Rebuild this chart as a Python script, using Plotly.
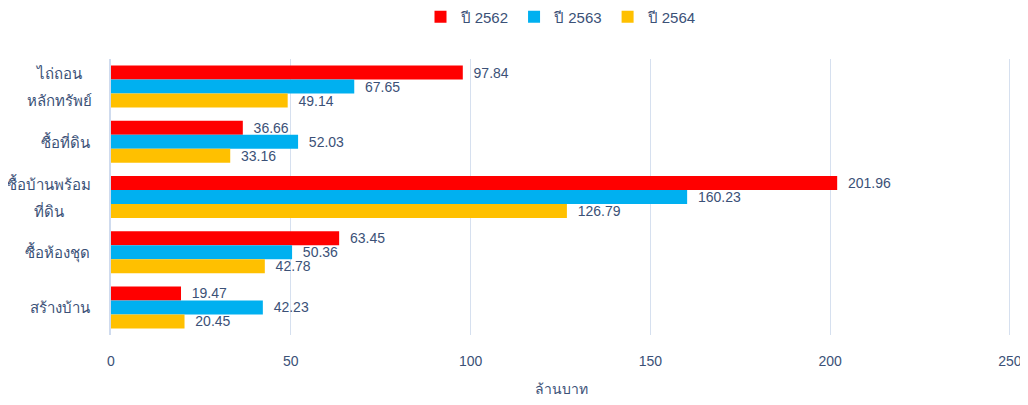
import plotly.graph_objects as go

categories = ["ไถ่ถอนหลักทรัพย์", "ซื้อที่ดิน", "ซื้อบ้านพร้อมที่ดิน", "ซื้อห้องชุด", "สร้างบ้าน"]
category_lines = [["ไถ่ถอน", "หลักทรัพย์"], ["ซื้อที่ดิน"], ["ซื้อบ้านพร้อม", "ที่ดิน"], ["ซื้อห้องชุด"], ["สร้างบ้าน"]]
series_names = ["ปี 2562", "ปี 2563", "ปี 2564"]
values_2562 = [97.84, 36.66, 201.96, 63.45, 19.47]
values_2563 = [67.65, 52.03, 160.23, 50.36, 42.23]
values_2564 = [49.14, 33.16, 126.79, 42.78, 20.45]
colors = ["#FF0000", "#00B0F0", "#FFC000"]
x_ticks = [0, 50, 100, 150, 200, 250]

text_color = "#3B5177"
font_family = "Liberation Sans, Arial, sans-serif"

# page body adds an 8px margin; the figure starts at (8, 8) on the page
OFF = 8
W, H = 1028 - OFF, 405 - 2 * OFF

fig = go.Figure()
for name, vals, col in zip(series_names, [values_2562, values_2563, values_2564], colors):
    fig.add_trace(go.Bar(
        y=categories, x=vals, name=name, orientation="h",
        marker=dict(color=col, line=dict(width=0)),
        text=[f"{v:.2f}" for v in vals],
        texttemplate="  %{text}",
        textposition="outside",
        constraintext="none",
        textfont=dict(color=text_color, size=14, family=font_family),
        cliponaxis=False,
    ))

# category labels (two-line labels are centered, block right-aligned)
annotations = []
for cat, lines in zip(categories, category_lines):
    if len(lines) == 1:
        annotations.append(dict(x=0, xref="paper", y=cat, yref="y", text=lines[0],
                                xanchor="right", yanchor="middle", xshift=-19,
                                showarrow=False, font=dict(size=15, color=text_color)))
    else:
        widest = max(len(l) for l in lines)
        center_shift = -19 - 3.3 * widest
        for k, line in enumerate(lines):
            annotations.append(dict(x=0, xref="paper", y=cat, yref="y", text=line,
                                    xanchor="center", yanchor="middle", xshift=center_shift,
                                    yshift=13.5 if k == 0 else -13.5,
                                    showarrow=False, font=dict(size=15, color=text_color)))

plot_left, plot_right, plot_top, plot_bottom = 111, 1011, 59, 335
fig.update_layout(
    width=W, height=H,
    margin=dict(l=plot_left - OFF, r=W - (plot_right - OFF), t=plot_top - OFF,
                b=H - (plot_bottom - OFF), autoexpand=False),
    barmode="group", bargap=0.24, bargroupgap=0,
    plot_bgcolor="white", paper_bgcolor="white",
    font=dict(family=font_family, color=text_color, size=14),
    legend=dict(orientation="h", x=0.5, xanchor="center", y=1.152, yanchor="middle",
                traceorder="normal", font=dict(size=15), itemwidth=30),
    xaxis=dict(range=[0, 250.3], tickvals=x_ticks, showgrid=True, gridcolor="#D6E0EF",
               gridwidth=1, zeroline=False, showline=False, ticks="", automargin=False,
               tickfont=dict(size=14), ticklabelstandoff=16, ticklabeloverflow="allow",
               title=dict(text="ล้านบาท", font=dict(size=14), standoff=18)),
    yaxis=dict(autorange="reversed", showline=True, linecolor="#CFDBEE", linewidth=2,
               ticks="", showticklabels=False, automargin=False),
    annotations=annotations,
    showlegend=True,
)

fig.write_html("out.html")
